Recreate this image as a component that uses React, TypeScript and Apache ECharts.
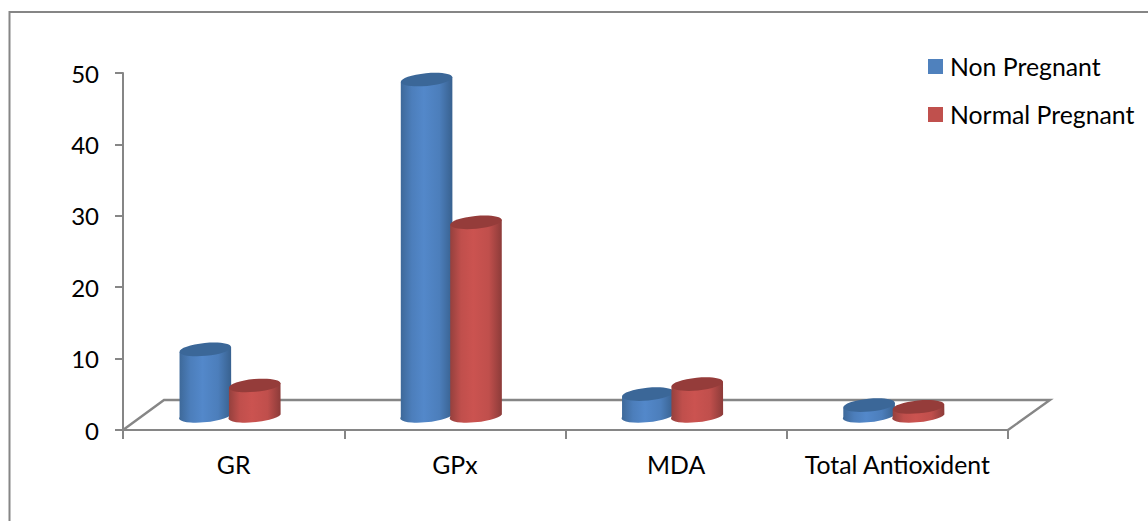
import React, { useEffect, useRef } from "react";
import * as echarts from "echarts";

const categories = ["GR", "GPx", "MDA", "Total Antioxident"];
const seriesNames = ["Non Pregnant", "Normal Pregnant"];
const nonPregnant = [9.1, 46.9, 2.85, 1.3];
const normalPregnant = [4.05, 26.9, 4.25, 1.05];
const valueTicks = { min: 0, max: 50, interval: 10 };

const AXIS_GREY = "#868686";
const FONT = "Lato, 'Open Sans', sans-serif";

// Cylinder geometry: the floor sits in front of the axis plane, so bases rest above the zero line.
const RX = 25.9;
const RY = 6.4;
const TILT_DEG = 5.5;
const FLOOR_DEPTH = 15.6;
const PAIR_SHIFT = -3.6;
const SERIES_SHIFT = 24.7;

type Palette = { edgeL: string; mid: string; light: string; edgeR: string; top: string };

const bluePalette: Palette = { edgeL: "#3d6898", mid: "#4c7ebb", light: "#5388ca", edgeR: "#38618f", top: "#3b6798" };
const redPalette: Palette = { edgeL: "#93403d", mid: "#c04f4c", light: "#cb5350", edgeR: "#8c3b39", top: "#953c3a" };

function cylinderRenderer(side: number, palette: Palette) {
  const tilt = (TILT_DEG * Math.PI) / 180;
  const dx = RX * Math.cos(tilt);
  const dy = RX * Math.sin(tilt);
  return (_params: any, api: any) => {
    const cat = api.value(0);
    const [bandX, zeroY] = api.coord([cat, 0]);
    const [, valueY] = api.coord([cat, api.value(1)]);
    const cx = bandX + PAIR_SHIFT + side * SERIES_SHIFT;
    const topY = valueY - FLOOR_DEPTH;
    const baseY = zeroY - FLOOR_DEPTH;
    const body =
      `M ${cx - dx} ${topY + dy} L ${cx - dx} ${baseY + dy} ` +
      `A ${RX} ${RY} ${-TILT_DEG} 0 0 ${cx + dx} ${baseY - dy} ` +
      `L ${cx + dx} ${topY - dy} Z`;
    return {
      type: "group",
      children: [
        {
          type: "path",
          shape: { pathData: body },
          style: {
            fill: new echarts.graphic.LinearGradient(0, 0, 1, 0, [
              { offset: 0, color: palette.edgeL },
              { offset: 0.22, color: palette.mid },
              { offset: 0.45, color: palette.light },
              { offset: 0.75, color: palette.mid },
              { offset: 1, color: palette.edgeR },
            ]),
          },
        },
        {
          type: "ellipse",
          x: cx,
          y: topY,
          rotation: tilt,
          shape: { cx: 0, cy: 0, rx: RX, ry: RY },
          style: { fill: palette.top },
        },
      ],
    };
  };
}

function toPoints(values: number[]) {
  return values.map((v, i) => [i, v]);
}

export default function App() {
  const ref = useRef<HTMLDivElement>(null);

  useEffect(() => {
    const chart = echarts.init(ref.current!, null, { renderer: "svg" });
    chart.setOption({
      animation: false,
      textStyle: { fontFamily: FONT },
      grid: { left: 123, right: 140, top: 73, bottom: 91, containLabel: false },
      legend: {
        orient: "vertical",
        left: 928,
        top: 54,
        padding: 0,
        itemWidth: 15,
        itemHeight: 15,
        itemGap: 23,
        icon: "rect",
        data: seriesNames,
        selectedMode: false,
        textStyle: { fontSize: 24.8, color: "#000", fontFamily: FONT, padding: [0, 0, 0, 2] },
      },
      xAxis: {
        type: "category",
        data: categories,
        axisLine: { lineStyle: { color: AXIS_GREY, width: 2 } },
        axisTick: { show: true, alignWithLabel: false, length: 9, lineStyle: { color: AXIS_GREY, width: 2 } },
        axisLabel: { color: "#000", fontSize: 24.8, fontFamily: FONT, margin: 22, interval: 0 },
        splitLine: { show: false },
      },
      yAxis: {
        type: "value",
        ...valueTicks,
        axisLine: { show: true, lineStyle: { color: AXIS_GREY, width: 2 } },
        axisTick: { show: true, length: 8, lineStyle: { color: AXIS_GREY, width: 2 } },
        axisLabel: { color: "#000", fontSize: 24, fontFamily: FONT, margin: 24 },
        splitLine: { show: false },
      },
      graphic: [
        // Outer chart frame, open at the right and bottom of the page
        {
          type: "polyline",
          shape: { points: [[9.5, 521], [9.5, 12], [1148, 12]] },
          style: { stroke: AXIS_GREY, lineWidth: 2, fill: "none" },
        },
        // Perspective floor behind the columns
        {
          type: "polyline",
          shape: { points: [[123, 430], [164, 400], [1050, 400], [1008, 430]] },
          style: { stroke: AXIS_GREY, lineWidth: 2.4, fill: "none" },
        },
      ],
      series: [
        {
          name: seriesNames[0],
          type: "custom",
          renderItem: cylinderRenderer(-1, bluePalette),
          encode: { x: 0, y: 1 },
          itemStyle: { color: "#4f81bd" },
          data: toPoints(nonPregnant),
          clip: false,
        },
        {
          name: seriesNames[1],
          type: "custom",
          renderItem: cylinderRenderer(1, redPalette),
          encode: { x: 0, y: 1 },
          itemStyle: { color: "#c0504d" },
          data: toPoints(normalPregnant),
          clip: false,
        },
      ],
    });
    return () => chart.dispose();
  }, []);

  return (
    <div
      ref={ref}
      style={{ position: "absolute", left: 0, top: 0, width: 1148, height: 521, background: "#fff" }}
    />
  );
}
